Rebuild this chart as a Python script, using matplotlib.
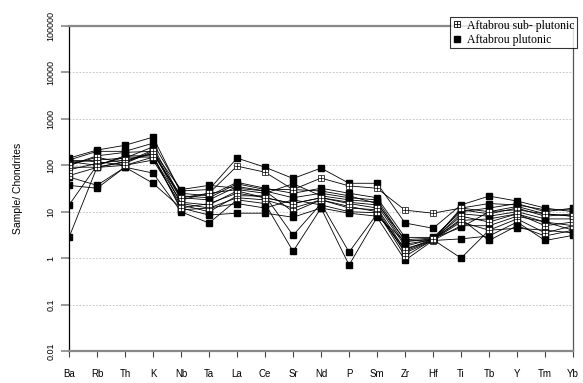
import matplotlib
matplotlib.use("Agg")
import matplotlib.pyplot as plt
from matplotlib.ticker import FixedLocator, NullLocator

elementos = ["Ba", "Rb", "Th", "K", "Nb", "Ta", "La", "Ce", "Sr", "Nd",
             "P", "Sm", "Zr", "Hf", "Ti", "Tb", "Y", "Tm", "Yb"]

# Aftabrou sub-plutonic (normalised to chondrites)
sub_1 = [80, 110, 130, 180, 20, 25, 96, 71, 30, 53, 36, 32, 10.8, 9.3, 12, 10, 11, 9, 8]
sub_2 = [100, 150, 110, 200, 15, 12, 20, 18, 12, 18, 13, 10, 1.1, 2.5, 6, 4, 7, 3.5, 5]
sub_3 = [60, 90, 100, 150, 12, 15, 25, 20, 15, 20, 15, 12, 1.5, 2.6, 8, 6, 9, 5, 6]

# Aftabrou plutonic
plu_1 = [130, 200, 200, 300, 28, 30, 143, 91, 52, 87, 41, 41, 5.7, 4.4, 14, 21.7, 17, 12, 10]
plu_2 = [143, 213, 270, 405, 25, 22, 43, 32, 25, 32, 25, 20, 2.8, 2.8, 10, 12, 15, 10, 12]
plu_3 = [117, 130, 143, 250, 20, 18, 35, 28, 20, 25, 20, 18, 2.3, 2.6, 11, 9, 12, 8, 9]
plu_4 = [91, 91, 117, 213, 18, 25, 30, 25, 40, 22, 18, 16, 2.0, 2.5, 9, 8, 10, 7, 7]
plu_5 = [130, 120, 100, 130, 14, 10, 22, 22, 3.1, 15, 1.35, 9, 1.6, 2.4, 5, 5, 8, 6, 4]
plu_6 = [56, 37, 91, 68, 10, 5.7, 18, 15, 1.4, 12, 0.71, 7.6, 0.9, 2.4, 2.6, 3, 6, 2.4, 3.1]
plu_7 = [37, 32, 91, 41, 12, 8.5, 9.3, 9.3, 7.6, 12, 9.3, 8, 2.3, 2.5, 1.0, 4, 4.4, 4, 3.5]
plu_8 = [14, 100, 150, 150, 16, 14, 28, 20, 15, 20, 16, 14, 1.8, 2.6, 6.5, 7, 9, 6, 5]
plu_9 = [2.8, 91, 120, 180, 22, 20, 40, 30, 30, 28, 22, 15, 2.5, 2.7, 4.6, 10, 13, 9, 8]
plu_10 = [100, 160, 190, 200, 30, 37, 32, 28, 10, 18, 12, 11, 1.3, 2.4, 12, 15, 14, 11, 11]
plu_11 = [120, 100, 160, 160, 11, 12, 15, 12, 18, 14, 10, 9.5, 1.4, 2.5, 7, 2.4, 5, 3, 4]

sub_plutonic = [sub_1, sub_2, sub_3]
plutonic = [plu_1, plu_2, plu_3, plu_4, plu_5, plu_6, plu_7, plu_8,
            plu_9, plu_10, plu_11]

fig = plt.figure(figsize=(5.83, 3.83), dpi=100)
ax = fig.add_axes([0.1184, 0.0836, 0.8646, 0.8484])

x = list(range(len(elementos)))

for s in plutonic:
    ax.plot(x, s, color="black", lw=0.6, marker="s", ms=3.8,
            markerfacecolor="black", markeredgecolor="black")
for s in sub_plutonic:
    ax.plot(x, s, color="black", lw=0.6, marker="s", ms=4.2,
            markerfacecolor="white", markeredgecolor="black", markeredgewidth=0.5)
    ax.plot(x, s, lw=0, marker="+", ms=4.0, color="black", markeredgewidth=0.5)

ax.set_yscale("log")
ax.set_ylim(0.01, 100000)
ax.set_xlim(0, len(elementos) - 1)
yt = [0.01, 0.1, 1, 10, 100, 1000, 10000, 100000]
ax.yaxis.set_major_locator(FixedLocator(yt))
ax.yaxis.set_minor_locator(NullLocator())
ax.set_yticklabels(["0.01", "0.1", "1", "10", "100", "1000", "10000", "100000"],
                   rotation=90, va="center", fontsize=6.5, family="Liberation Sans")
ax.set_xticks(x)
ax.set_xticklabels(elementos, fontsize=7, family="Liberation Sans")
ax.tick_params(axis="x", length=4.3, width=0.8, color="#444444", pad=8.5)
ax.tick_params(axis="y", length=6, width=1.2, color="#888888", pad=4)

for v in yt[1:-1]:
    ax.axhline(v, color="#bbbbbb", lw=0.6, ls=(0, (2, 2)), zorder=0)

ax.spines["top"].set_color("#888888")
ax.spines["top"].set_linewidth(1.6)
ax.spines["bottom"].set_color("#888888")
ax.spines["bottom"].set_linewidth(1.6)
ax.spines["left"].set_color("black")
ax.spines["left"].set_linewidth(0.9)
ax.spines["right"].set_color("#555555")
ax.spines["right"].set_linewidth(0.9)

ax.set_ylabel("Sample/ Chondrites", fontsize=7.5, family="Liberation Sans", labelpad=17)

h1, = ax.plot([], [], lw=0, marker="s", ms=5, markerfacecolor="white",
              markeredgecolor="black", markeredgewidth=0.6)
h1b, = ax.plot([], [], lw=0, marker="+", ms=5, color="black", markeredgewidth=0.6)
h2, = ax.plot([], [], lw=0, marker="s", ms=5, color="black")
leg = fig.legend([(h1, h1b), h2], ["Aftabrou sub- plutonic", "Aftabrou plutonic"],
                 loc="upper right", bbox_to_anchor=(0.989, 0.955),
                 prop={"family": "Liberation Serif", "size": 8.5},
                 frameon=True, fancybox=False, edgecolor="black",
                 handlelength=0.8, handletextpad=0.4, borderpad=0.2,
                 labelspacing=0.2, borderaxespad=0)
leg.get_frame().set_linewidth(0.8)

fig.savefig("out.png", dpi=100)
